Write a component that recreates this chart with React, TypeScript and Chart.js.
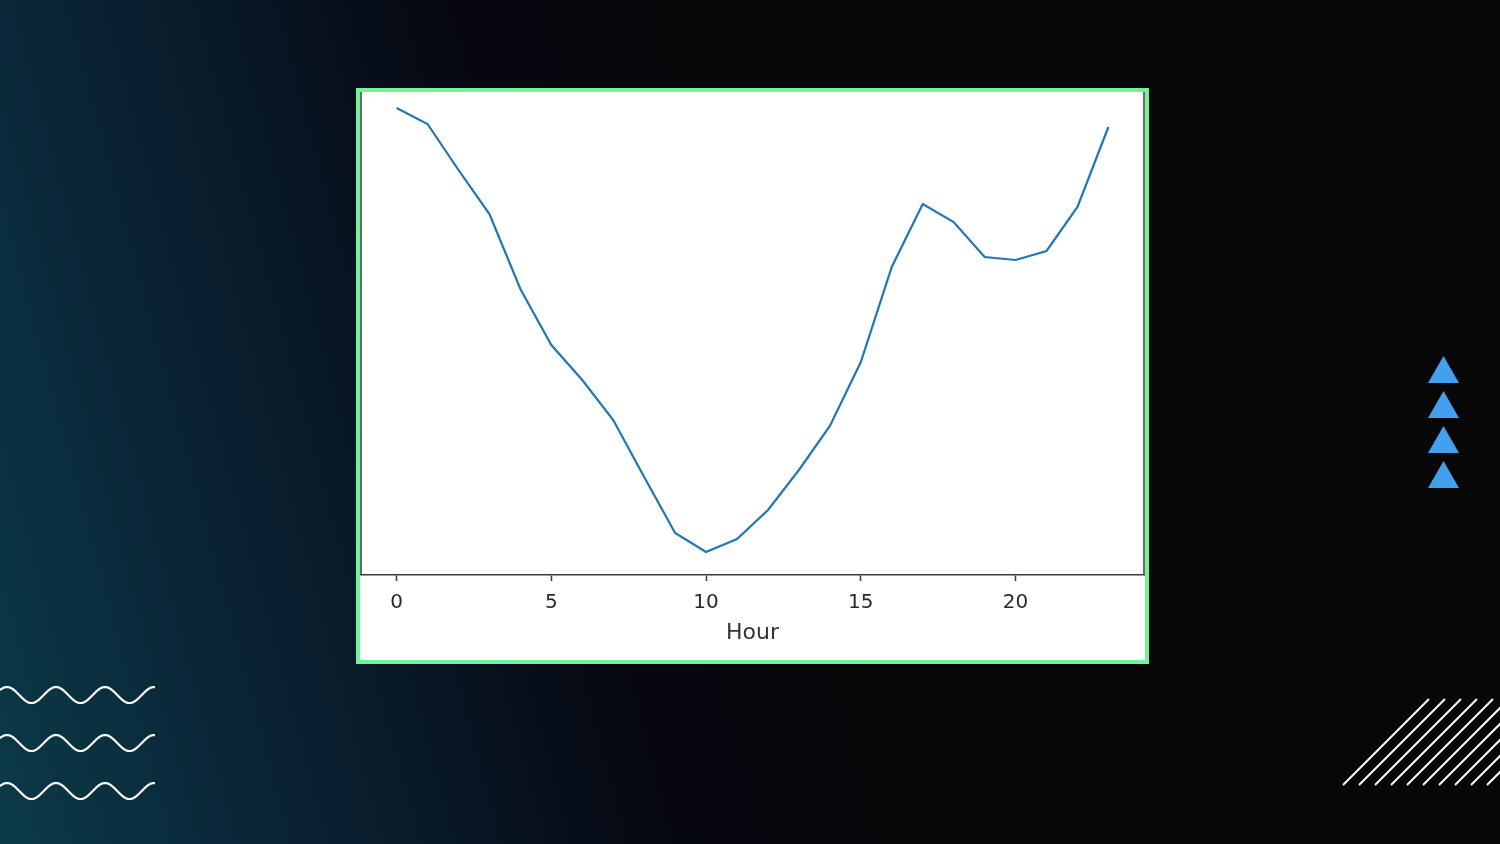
import React, { useEffect, useRef } from "react";
import { Chart, registerables } from "chart.js";

Chart.register(...registerables);

// Data (arbitrary units)
const hours: number[] = [0, 1, 2, 3, 4, 5, 6, 7, 8, 9, 10, 11, 12, 13, 14, 15, 16, 17, 18, 19, 20, 21, 22, 23];
const values: number[] = [467, 451, 405, 361, 286, 230, 195, 155, 98, 42, 23, 36, 65, 105, 149, 213, 308, 371, 353, 318, 315, 324, 368, 448];
const xTickValues: number[] = [0, 5, 10, 15, 20];
const xTitle = "Hour";

const spinesPlugin = {
  id: "spines",
  afterDraw(chart: any) {
    const { ctx, chartArea } = chart;
    ctx.save();
    ctx.strokeStyle = "#3a3a3a";
    ctx.lineWidth = 1.5;
    ctx.beginPath();
    ctx.moveTo(chartArea.left, chartArea.top);
    ctx.lineTo(chartArea.left, chartArea.bottom);
    ctx.moveTo(chartArea.right, chartArea.top);
    ctx.lineTo(chartArea.right, chartArea.bottom);
    ctx.stroke();
    ctx.restore();
  },
};

function LineChart() {
  const ref = useRef<HTMLCanvasElement | null>(null);
  useEffect(() => {
    if (!ref.current) return;
    const chart = new Chart(ref.current, {
      type: "line",
      data: {
        datasets: [
          {
            data: hours.map((h, i) => ({ x: h, y: values[i] })),
            borderColor: "#1f77b4",
            borderWidth: 2.2,
            pointRadius: 0,
            tension: 0,
            fill: false,
          },
        ],
      },
      options: {
        animation: false,
        responsive: false,
        maintainAspectRatio: false,
        events: [],
        layout: { padding: { left: 1, right: 1, top: 0, bottom: 0 } },
        plugins: { legend: { display: false }, tooltip: { enabled: false } },
        scales: {
          x: {
            type: "linear",
            min: -1.15,
            max: 24.15,
            afterBuildTicks: (scale: any) => {
              scale.ticks = xTickValues.map((v) => ({ value: v }));
            },
            afterFit: (scale: any) => {
              scale.height = 85;
            },
            grid: {
              display: true,
              drawOnChartArea: false,
              drawTicks: true,
              tickLength: 6,
              tickWidth: 1.5,
              tickColor: "#3a3a3a",
            },
            border: { display: true, color: "#3a3a3a", width: 1.5 },
            ticks: {
              color: "#2a2a2a",
              padding: 10,
              maxRotation: 0,
              font: { family: "'DejaVu Sans', sans-serif", size: 20 },
            },
            title: {
              display: true,
              text: xTitle,
              color: "#333333",
              font: { family: "'DejaVu Sans', sans-serif", size: 22 },
              padding: { top: 0, bottom: 14 },
            },
          },
          y: {
            display: false,
            min: 0,
            max: 483,
          },
        },
      },
      plugins: [spinesPlugin],
    });
    return () => chart.destroy();
  }, []);
  return <canvas ref={ref} width={785} height={568} style={{ display: "block", width: 785, height: 568 }} />;
}

function Waves() {
  const rows = [695, 743, 791];
  const makePath = (cy: number) => {
    const pts: string[] = [];
    for (let x = 0; x <= 155; x += 1) {
      const y = cy - 8 * Math.cos((2 * Math.PI * (x - 7)) / 49);
      pts.push(`${x === 0 ? "M" : "L"}${x},${y.toFixed(2)}`);
    }
    return pts.join(" ");
  };
  return (
    <svg width={1500} height={844} style={{ position: "absolute", left: 0, top: 0 }}>
      {rows.map((cy) => (
        <path key={cy} d={makePath(cy)} stroke="#ffffff" strokeWidth={2.2} fill="none" />
      ))}
      {[356, 391, 426, 461].map((t) => (
        <polygon key={t} points={`1443.5,${t} 1459,${t + 27} 1428,${t + 27}`} fill="#43a0ee" />
      ))}
      {Array.from({ length: 10 }).map((_, k) => {
        const bx = 1343 + 16 * k;
        return <line key={k} x1={bx} y1={785} x2={bx + 86} y2={699} stroke="#ffffff" strokeWidth={2} />;
      })}
    </svg>
  );
}

export default function App() {
  return (
    <div
      style={{
        position: "fixed",
        left: 0,
        top: 0,
        width: 1500,
        height: 844,
        overflow: "hidden",
        background:
          "linear-gradient(75deg, #0b3a48 0%, #0a2233 18%, #060812 38%, #070707 55%, #070707 100%)",
      }}
    >
      <Waves />
      <div
        style={{
          position: "absolute",
          left: 356,
          top: 88,
          width: 793,
          height: 576,
          boxSizing: "border-box",
          border: "4px solid #70f39b",
          background: "#ffffff",
          overflow: "hidden",
        }}
      >
        <LineChart />
      </div>
    </div>
  );
}
